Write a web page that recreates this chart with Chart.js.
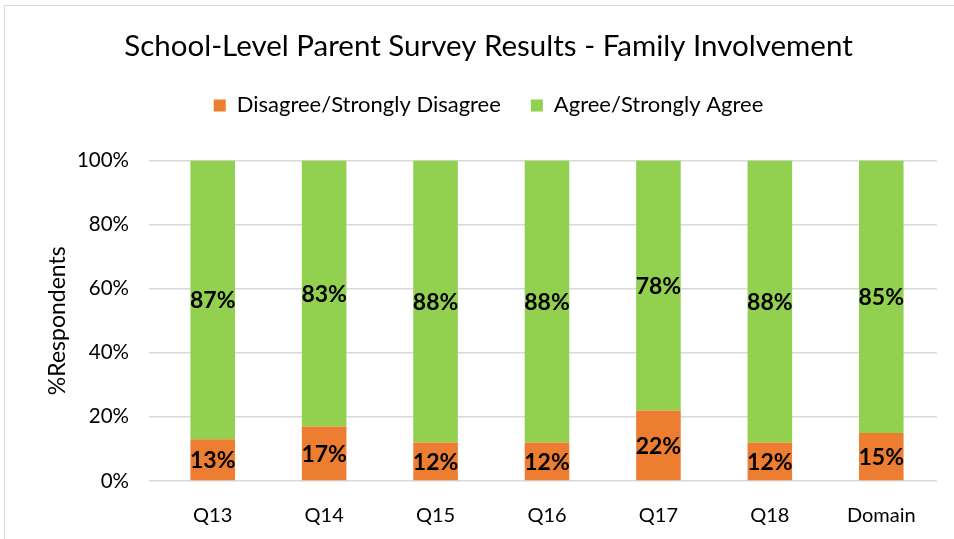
<!DOCTYPE html>
<html>
<head>
<meta charset="utf-8">
<script src="https://cdn.jsdelivr.net/npm/chart.js@4"></script>
<style>
    html, body { margin: 0; padding: 0; background: #fff; overflow: hidden; }
    #frame { position: absolute; left: 4px; top: 5px; width: 980px; height: 560px; border: 1px solid #d9d9d9; }
    #wrap { position: absolute; left: 0; top: 0; width: 954px; height: 539px; }
</style>
</head>
<body>
<div id="frame"></div>
<div id="wrap"><canvas id="survey"></canvas></div>
<script>
const categories = ["Q13", "Q14", "Q15", "Q16", "Q17", "Q18", "Domain"];
const disagree = [13, 17, 12, 12, 22, 12, 15];
const agree = [87, 83, 88, 88, 78, 88, 85];
const yTicks = [0, 20, 40, 60, 80, 100];

const font = "Lato";
const textColor = "#000";

// labels in the middle of each segment
const segmentLabels = {
    id: "segmentLabels",
    afterInit: (chart) => {
        // leave more room under the legend, like the excel chart
        let legend = chart.legend;
        let fit = legend.fit;
        legend.fit = function () {
            fit.call(this);
            this.height = 96;
        };
    },
    afterDatasetsDraw: (chart) => {
        let ctx = chart.ctx;
        ctx.save();
        ctx.font = "bold 23px " + font;
        ctx.fillStyle = "#000";
        ctx.textAlign = "center";
        ctx.textBaseline = "middle";
        chart.data.datasets.forEach((ds, i) => {
            let meta = chart.getDatasetMeta(i);
            meta.data.forEach((bar, j) => {
                let p = bar.getProps(["x", "y", "base"], true);
                ctx.fillText(ds.data[j] + "%", p.x, (p.y + p.base) / 2 + 1);
            });
        });
        ctx.restore();
    },
};

let ctx = document.getElementById("survey").getContext("2d");

let data = {
    labels: categories,
    datasets: [
        {
            label: "Disagree/Strongly Disagree",
            backgroundColor: "#ED7D31",
            data: disagree,
        },
        {
            label: "Agree/Strongly Agree",
            backgroundColor: "#92D050",
            data: agree,
        },
    ],
};

let options = {
    responsive: true,
    maintainAspectRatio: false,
    animation: false,
    layout: { padding: { left: 40, right: 17, top: 0, bottom: 0 } },
    datasets: { bar: { barPercentage: 0.4, categoryPercentage: 1 } },
    plugins: {
        title: {
            display: true,
            text: "School-Level Parent Survey Results - Family Involvement",
            color: textColor,
            font: { family: font, size: 29.5, weight: "normal" },
            padding: { top: 29, bottom: 0 },
        },
        legend: {
            position: "top",
            labels: {
                color: textColor,
                font: { family: font, size: 22 },
                boxWidth: 12,
                boxHeight: 12,
                padding: 30,
            },
        },
        tooltip: { enabled: false },
    },
    scales: {
        x: {
            stacked: true,
            grid: { display: false },
            border: { display: false },
            ticks: { color: textColor, font: { family: font, size: 20 }, padding: 15 },
            afterFit: (scale) => { scale.height = 58; },
        },
        y: {
            stacked: true,
            min: 0,
            max: 100,
            afterBuildTicks: (scale) => { scale.ticks = yTicks.map((v) => ({ value: v })); },
            grid: { color: "#d9d9d9", lineWidth: 1.5 },
            border: { display: false },
            ticks: {
                color: textColor,
                font: { family: font, size: 20.5 },
                padding: 20,
                callback: (v) => v + "%",
            },
            title: {
                display: true,
                text: "%Respondents",
                color: textColor,
                font: { family: font, size: 23 },
            },
            afterFit: (scale) => { scale.width = 117; },
        },
    },
};

let myChart = new Chart(ctx, {
    type: "bar",
    data: data,
    options: options,
    plugins: [segmentLabels],
});
</script>
</body>
</html>
